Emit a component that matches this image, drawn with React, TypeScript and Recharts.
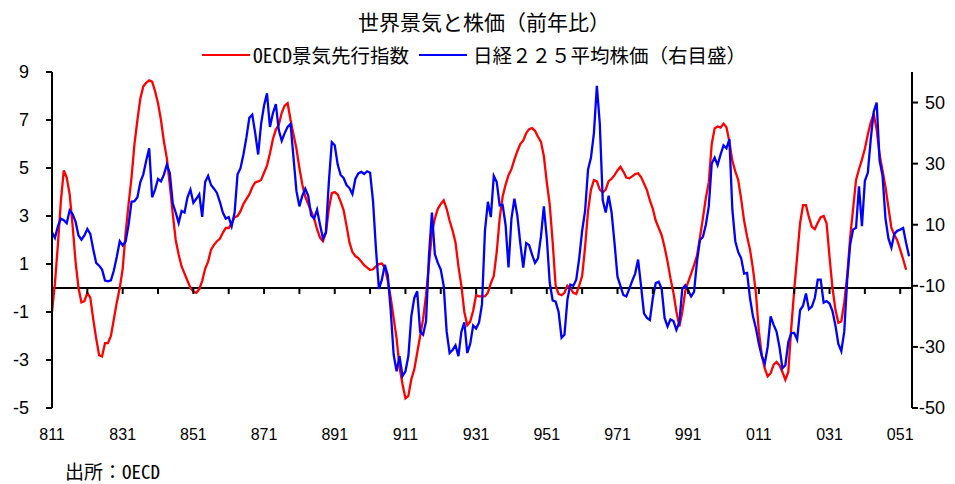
import React from 'react';
import { LineChart, Line, XAxis, YAxis, ReferenceLine } from 'recharts';

// OECD composite leading indicator, YoY % (left axis), monthly from 1981/1
const oecd: number[] = [
  -1.0, 0.2, 1.8, 3.6, 4.9, 4.6, 3.9, 2.6, 1.1, 0.0, -0.6, -0.55,
  -0.2, -0.4, -1.3, -2.1, -2.8, -2.85, -2.3, -2.3, -2.0, -1.3, -0.6, 0.0,
  0.8, 2.3, 3.5, 4.6, 6.0, 7.0, 7.9, 8.4, 8.55, 8.65, 8.6, 8.2,
  7.7, 7.0, 6.1, 5.4, 4.3, 3.1, 2.0, 1.4, 0.9, 0.6, 0.3, 0.0,
  -0.15, -0.2, -0.05, 0.3, 0.8, 1.1, 1.6, 1.8, 1.95, 2.05, 2.3, 2.5,
  2.5, 2.7, 2.95, 3.0, 3.2, 3.5, 3.7, 3.9, 4.2, 4.4, 4.44, 4.5,
  4.8, 5.1, 5.6, 6.2, 6.6, 6.8, 7.3, 7.6, 7.7, 7.0, 6.4, 5.8,
  5.0, 4.3, 3.8, 3.5, 3.2, 2.9, 2.45, 2.1, 1.95, 2.3, 3.3, 3.95,
  4.0, 3.9, 3.6, 3.25, 2.6, 1.9, 1.5, 1.33, 1.25, 1.1, 0.95, 0.85,
  0.75, 0.78, 0.9, 1.0, 1.02, 0.85, 0.3, -0.4, -1.25, -2.1, -3.3, -4.0,
  -4.6, -4.5, -3.8, -3.4, -2.7, -2.0, -1.3, -0.3, 1.0, 2.3, 2.9, 3.3,
  3.5, 3.65, 3.3, 2.8, 2.4, 1.9, 0.9, 0.1, -1.0, -1.55, -1.4, -0.95,
  -0.3, -0.35, -0.35, -0.35, -0.2, 0.2, 0.5, 1.5, 2.9, 3.8, 4.3, 4.7,
  4.95, 5.35, 5.7, 6.0, 6.15, 6.45, 6.62, 6.66, 6.55, 6.3, 6.1, 5.5,
  4.4, 3.47, 1.9, 0.1, -0.25, -0.3, -0.2, 0.1, 0.0, -0.2, -0.25, 0.1,
  0.5, 1.7, 3.2, 4.1, 4.5, 4.44, 4.1, 3.98, 4.1, 4.45, 4.55, 4.7,
  4.9, 5.05, 4.85, 4.6, 4.57, 4.65, 4.75, 4.78, 4.62, 4.35, 4.08, 3.65,
  3.3, 2.8, 2.5, 2.2, 1.7, 1.1, 0.4, -0.2, -0.97, -1.6, -1.0, -0.14,
  0.25, 0.6, 0.95, 1.35, 2.1, 2.9, 3.75, 4.4, 6.0, 6.65, 6.73, 6.68,
  6.85, 6.7, 6.1, 5.3, 4.86, 4.5, 3.7, 2.8, 2.15, 1.6, 0.8, -0.2,
  -1.8, -2.8, -3.35, -3.68, -3.55, -3.2, -3.08, -3.22, -3.5, -3.82, -3.5, -1.67,
  -0.1, 1.3, 2.7, 3.45, 3.45, 2.95, 2.55, 2.45, 2.72, 2.95, 3.0, 2.7,
  1.3, 0.0, -0.9, -1.45, -1.39, -0.6, 0.5, 2.1, 3.3, 4.5, 4.95, 5.35,
  5.8, 6.4, 6.9, 7.25, 6.6, 5.55, 4.9, 4.2, 3.35, 2.5, 2.22, 1.98,
  1.6, 1.2, 0.76,
];

// Nikkei 225 average, YoY % (right axis), monthly from 1981/1
const nikkei: number[] = [
  7.5, 5.7, 9.5, 12, 11.5, 10.5, 14.7, 13.5, 11, 6.5, 5.1, 6.5,
  8.6, 7, 2, -2.5, -3.4, -4.7, -8.3, -8.5, -8.2, -5, -0.5, 4.6,
  3.2, 4.5, 10, 17.5, 17.7, 19, 24, 26.5, 31, 35, 19, 21.5,
  25, 24.2, 26.4, 29.7, 26.9, 17, 14, 10.6, 14.5, 14, 19, 21.5,
  17.2, 18.5, 20, 12.6, 24, 26, 23, 21.8, 20.4, 17.5, 14, 12,
  12.5, 9.5, 14, 26.5, 28.5, 33, 38.5, 45, 46, 40, 33, 43,
  49, 53, 42, 46.5, 49.5, 41, 37.5, 40, 42, 43, 32, 21,
  16, 19.5, 21.8, 19.5, 13, 12, 14.9, 10, 5.5, 7.5, 24, 37,
  36, 29.7, 26.3, 25.3, 23, 22, 20, 25, 26.8, 27.3, 26.6, 27.5,
  27, 17.7, 2, -11, -8, -3.1, -6.5, -18, -32.5, -38, -33, -39.6,
  -38, -33, -20, -14, -11.8, -25, -26, -21.6, 0, 14, 0.3, -2.5,
  -4.7, -10, -25, -32, -31, -29.5, -33, -25, -22, -32, -29, -23,
  -24, -22, -16, 8, 17.5, 12.5, 26, 24, 16.3, 16.5, 10, -4,
  12, 18.5, 13, 4, -4, 4, 3.3, 0.2, -2.5, -1, 6, 16,
  5.7, -9, -14.8, -15.2, -18.5, -27, -26, -14.5, -9.6, -10, -8, -1,
  8, 14.5, 28, 32, 40, 55.5, 43, 18, 14, 19.5, 14, 4,
  -7, -10, -13, -13.5, -11, -8.4, -6, -1.4, -10, -19, -20.5, -21.2,
  -14, -9.1, -8.7, -11, -20.5, -23.3, -21, -21.5, -24.4, -22, -11, -9.8,
  -11.5, -13.5, -12, -2, 5, 6, 10, 16, 30, 32, 29.5, 33,
  36, 35, 38, 15, 4.6, 1, -1, -6, -5.8, -14, -20, -23.8,
  -29, -33, -35.5, -30, -20, -22.7, -25, -30, -37, -36, -28.5, -25.5,
  -25.4, -27.6, -18, -16.5, -12.5, -17.7, -16.8, -14, -8, -8, -15.5, -15,
  -15.8, -18.3, -23, -29, -31.4, -25, -8, 3.5, 8.4, 9, 22.6, 9.5,
  24.4, 27, 38, 47, 50, 31, 26, 12, 5.5, 2.5, 7, 8,
  8.4, 8.9, 4, -0.3,
];

// Categories: year (2 digits) + month, 1981/1 .. 2005/5
const START_YEAR = 1981;
const MONTH_COUNT = 293;
const months: string[] = [];
for (let i = 0; i < MONTH_COUNT; i++) {
  const yy = String((START_YEAR + Math.floor(i / 12)) % 100).padStart(2, '0');
  months.push(`${yy}${(i % 12) + 1}`);
}
const yearTicks = months.filter((_, i) => i % 12 === 0);
const tickLabels = ['811', '831', '851', '871', '891', '911', '931', '951', '971', '991', '011', '031', '051'];

const leftTicks = [-5, -3, -1, 1, 3, 5, 7, 9];
const rightTicks = [-50, -30, -10, 10, 30, 50];
const L_MIN = -5;
const L_MAX = 9;
const R_MIN = -50;
const R_MAX = 60;

const data = months.map((m, i) => ({
  month: m,
  oecd: i < oecd.length ? oecd[i] : null,
  nikkei: i < nikkei.length ? nikkei[i] : null,
}));

const CHART_W = 947;
const CHART_H = 476;
const TOP = 64;
const X_AXIS_H = 76;
const LEFT_W = 44;
const RIGHT_W = 43;
const PLOT_H = CHART_H - TOP - X_AXIS_H;

const JP = '"Noto Sans Mono CJK JP", "Noto Sans CJK JP", sans-serif';
const NUM = '"Liberation Sans", Arial, sans-serif';

const XTick = (props: any) => {
  const { x, y, payload } = props;
  const zeroY = y - (PLOT_H * (0 - L_MIN)) / (L_MAX - L_MIN);
  const show = tickLabels.includes(payload.value);
  return (
    <g>
      <line x1={x} x2={x} y1={zeroY} y2={zeroY + 6} stroke="#000" strokeWidth={2} />
      {show && (
        <text x={x} y={y + 26} textAnchor="middle" dominantBaseline="central" fontSize={16} fontFamily={NUM} fill="#000">
          {payload.value}
        </text>
      )}
    </g>
  );
};

export default function App() {
  return (
    <div style={{ position: 'relative', width: CHART_W, height: CHART_H, background: '#fff' }}>
      <div
        style={{
          position: 'absolute',
          left: 350,
          top: 1,
          fontFamily: JP,
          fontSize: 21,
          lineHeight: '24px',
          whiteSpace: 'nowrap',
          color: '#000',
        }}
      >
        世界景気と株価（前年比）
      </div>
      <div
        style={{
          position: 'absolute',
          left: 194,
          top: 36,
          height: 22,
          display: 'flex',
          alignItems: 'center',
          fontFamily: JP,
          fontSize: 19.5,
          lineHeight: '22px',
          whiteSpace: 'nowrap',
          color: '#000',
        }}
      >
        <span style={{ display: 'inline-block', width: 48, height: 2.5, background: '#ff0000', marginRight: 3 }} />
        <span>OECD景気先行指数</span>
        <span style={{ display: 'inline-block', width: 48, height: 2.5, background: '#0000ff', marginLeft: 10, marginRight: 6 }} />
        <span>日経２２５平均株価（右目盛）</span>
      </div>
      <div
        style={{
          position: 'absolute',
          left: 57,
          top: 452,
          fontFamily: JP,
          fontSize: 19,
          lineHeight: '22px',
          whiteSpace: 'nowrap',
          color: '#000',
        }}
      >
        出所：OECD
      </div>
      <LineChart width={CHART_W} height={CHART_H} data={data} margin={{ top: TOP, right: 0, bottom: 0, left: 0 }}>
        <XAxis
          dataKey="month"
          ticks={yearTicks}
          interval={0}
          height={X_AXIS_H}
          axisLine={false}
          tickLine={false}
          tickSize={0}
          tickMargin={0}
          tick={<XTick />}
        />
        <YAxis
          yAxisId="left"
          orientation="left"
          width={LEFT_W}
          domain={[L_MIN, L_MAX]}
          ticks={leftTicks}
          interval={0}
          allowDataOverflow
          axisLine={{ stroke: '#000', strokeWidth: 2 }}
          tickLine={{ stroke: '#000', strokeWidth: 2 }}
          tickSize={6}
          tickMargin={17}
          tick={{ fill: '#000', fontSize: 18, fontFamily: NUM }}
        />
        <YAxis
          yAxisId="right"
          orientation="right"
          width={RIGHT_W}
          domain={[R_MIN, R_MAX]}
          ticks={rightTicks}
          interval={0}
          allowDataOverflow
          axisLine={{ stroke: '#000', strokeWidth: 2 }}
          tickLine={{ stroke: '#000', strokeWidth: 2 }}
          tickSize={6}
          tickMargin={27}
          tick={{ fill: '#000', fontSize: 18, fontFamily: NUM, textAnchor: 'end' }}
        />
        <ReferenceLine yAxisId="left" y={0} stroke="#000" strokeWidth={2} />
        <Line
          yAxisId="left"
          type="linear"
          dataKey="oecd"
          stroke="#ff0000"
          strokeWidth={2.3}
          dot={false}
          activeDot={false}
          isAnimationActive={false}
        />
        <Line
          yAxisId="right"
          type="linear"
          dataKey="nikkei"
          stroke="#0000ff"
          strokeWidth={2.3}
          dot={false}
          activeDot={false}
          isAnimationActive={false}
        />
      </LineChart>
    </div>
  );
}
